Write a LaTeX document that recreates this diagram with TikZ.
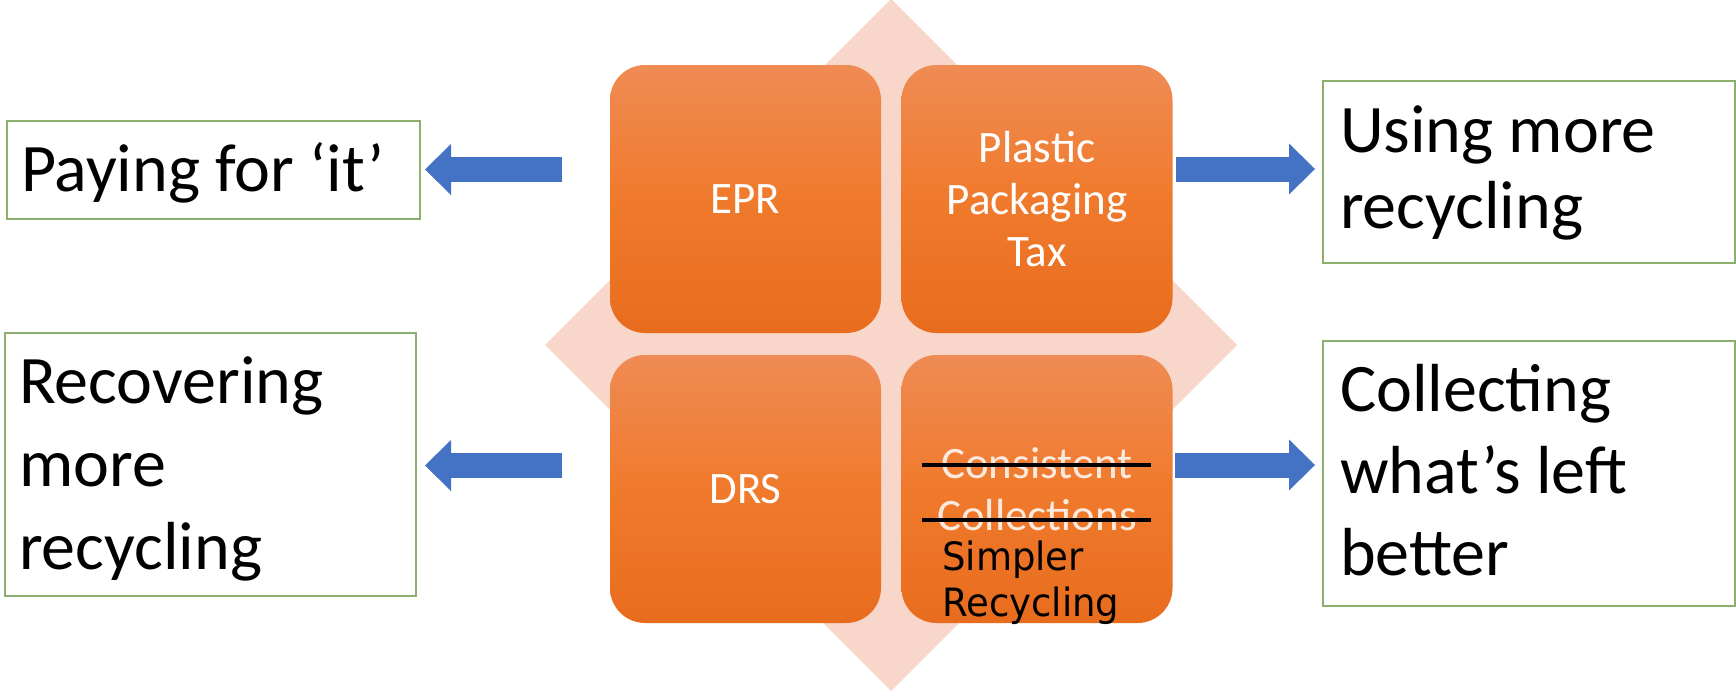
\documentclass[tikz,border=0pt]{standalone}
\usepackage{fontspec}
\setmainfont{Carlito}
\newfontfamily\simfont[FakeStretch=0.95]{DejaVu Sans}
\usetikzlibrary{arrows.meta}
\definecolor{diam}{RGB}{248,214,202}
\definecolor{otop}{RGB}{239,139,84}
\definecolor{omid}{RGB}{240,122,44}
\definecolor{obot}{RGB}{232,108,30}
\definecolor{gborder}{RGB}{140,175,110}
\definecolor{ablue}{RGB}{68,114,196}
\definecolor{ccw}{RGB}{252,234,222}
\tikzset{
  qbox/.style={rounded corners=35pt, minimum width=271pt, minimum height=268pt,
    inner sep=0pt, top color=otop, bottom color=obot, middle color=omid,
    text=white, align=center, font=\fontsize{45}{52}\selectfont},
  obox/.style={draw=gborder, line width=2pt, fill=white, anchor=north west,
    inner xsep=#1, inner ysep=0pt, text=black},
  barrow/.style={draw=ablue, line width=25pt,
    -{Triangle[length=26pt,width=51pt,line width=0pt]}},
  strike/.style={draw=black, line width=4.5pt},
}
\begin{document}
\begin{tikzpicture}[x=1pt,y=-1pt]
\useasboundingbox (0,0) rectangle (1736,691);
% background diamond
\fill[diam] (891,-1) -- (1237,345) -- (891,691) -- (545,345) -- cycle;

% central rounded squares
\node[qbox] (epr) at (745.5,199) {EPR};
\node[qbox] (ppt) at (1037,199) {Plastic\\Packaging\\Tax};
\node[qbox] (drs) at (745.5,489) {DRS};
\node[qbox, text=ccw] (cc) at (1037,489) {Consistent\\Collections};
\draw[strike] (922,465) -- (1151,465);
\draw[strike] (922,520) -- (1151,520);
\node[anchor=north west, inner sep=0pt, align=left, text=black,
      font=\simfont\fontsize{39}{46.7}\selectfont] (simp) at (942,530)
      {\rule{0pt}{40pt}Simpler\\Recycling};

% outer text boxes
\node[obox=14pt, font=\fontsize{68}{83}\selectfont] (l1) at (6,120)
  {\parbox[c][98pt][t]{385pt}{\raggedright\rule{0pt}{70.7pt}Paying for ‘it’}};
\node[obox=14pt, font=\fontsize{68}{83}\selectfont] (l2) at (4,332)
  {\parbox[c][263pt][t]{383pt}{\raggedright\rule{0pt}{70pt}Recovering\\more\\recycling}};
\node[obox=17pt, font=\fontsize{68}{76}\selectfont] (r1) at (1322,80)
  {\parbox[c][182pt][t]{378pt}{\raggedright\rule{0pt}{71.7pt}Using more\\recycling}};
\node[obox=17pt, font=\fontsize{68}{82}\selectfont] (r2) at (1322,340)
  {\parbox[c][265pt][t]{378pt}{\raggedright\rule{0pt}{70pt}Collecting\\what’s left\\better}};

% block arrows
\coordinate (t1) at (562,169.5);
\coordinate (t2) at (562,465.5);
\coordinate (t3) at (1176,169);
\coordinate (t4) at (1175,465);
\draw[barrow, shorten >=4pt] (t1) -- (t1 -| l1.east);
\draw[barrow, shorten >=8pt] (t2) -- (t2 -| l2.east);
\draw[barrow, shorten >=7pt] (t3) -- (t3 -| r1.west);
\draw[barrow, shorten >=7pt] (t4) -- (t4 -| r2.west);
\end{tikzpicture}
\end{document}
